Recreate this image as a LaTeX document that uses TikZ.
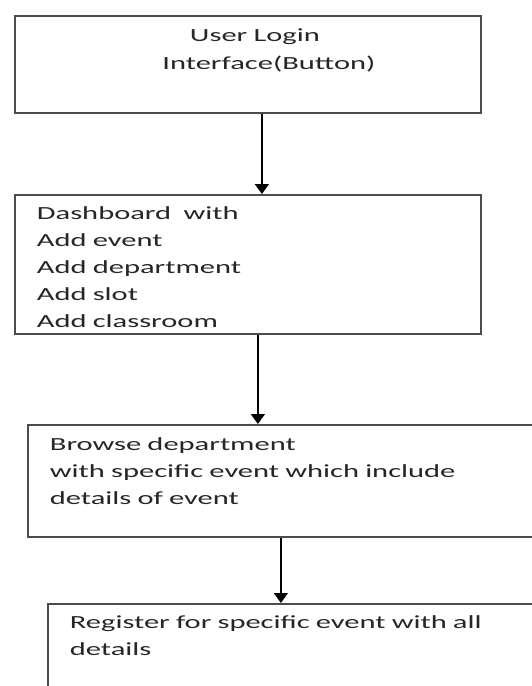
\documentclass[tikz,border=0pt]{standalone}
\usepackage{fontspec}
\newfontfamily\flowfont{Carlito}[FakeStretch=1.65]
\usetikzlibrary{arrows.meta, positioning}

\begin{document}
\begin{tikzpicture}[
    x=1pt, y=-1pt,
    box/.style={rectangle, draw=black!70, line width=1.8pt, anchor=north west, inner xsep=22pt, inner ysep=0pt, align=left, text=black!85, font=\flowfont\fontsize{18.5pt}{27pt}\selectfont},
    arrow/.style={line width=1.6pt, -{Triangle[width=14pt, length=10pt]}}]
    \fill[white] (0,0) rectangle (532,686);
    \clip (0,0) rectangle (532,686);
    \node[box, align=center, text width=422pt, text height=25.7pt, text depth=71.3pt, font=\flowfont\fontsize{18.5pt}{27.5pt}\selectfont] (login) at (14,15) {\hspace*{14pt}User Login\\\hspace*{42pt}Interface(Button)};
    \node[box, text width=422pt, text height=25pt, text depth=114pt] (dash) at (14,194) {Dashboard\ \ with\\Add event\\Add department\\Add slot\\Add classroom};
    \node[box, text width=499pt, text height=25.3pt, text depth=86.7pt] (browse) at (27,424) {Browse department\\with specific event which include\\details of event};
    \node[box, text width=489pt, text height=24.7pt, text depth=92pt] (reg) at (47,603) {Register for specific event with all\\details};
    % arrow start points
    \coordinate (a1) at ([xshift=14pt]login.south);
    \coordinate (a2) at ([xshift=10pt]dash.south);
    \coordinate (a3) at ([xshift=-18.5pt]browse.south);
    \draw[arrow] (a1) -- (a1 |- dash.north);
    \draw[arrow] (a2) -- (a2 |- browse.north);
    \draw[arrow] (a3) -- (a3 |- reg.north);
\end{tikzpicture}
\end{document}
